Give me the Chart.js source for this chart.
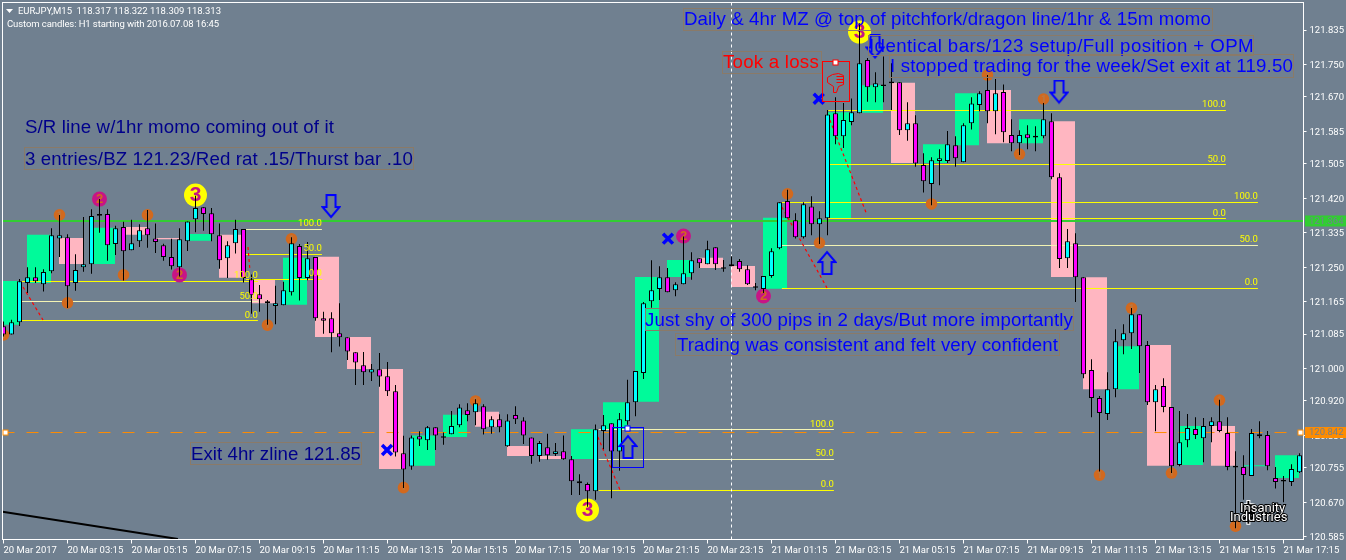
<!DOCTYPE html>
<html>
<head>
<meta charset="utf-8">
<title>EURJPY,M15</title>
<script src="https://cdn.jsdelivr.net/npm/chart.js@4/dist/chart.umd.js"></script>
<style>
html, body { margin: 0; padding: 0; background: #708090; }
canvas { display: block; }
</style>
</head>
<body>
<canvas id="chart" width="1346" height="560"></canvas>
<script>
// M15 candles
const opens = [
  121.104,121.084,121.114,121.211,121.225,121.208,121.240,121.321,121.324,121.211,
  121.250,121.257,121.381,121.381,121.307,121.349,121.292,121.314,121.346,121.321,
  121.304,121.275,121.250,121.314,121.368,121.398,121.383,121.329,121.272,121.309,
  121.344,121.220,121.183,121.166,121.154,121.156,121.188,121.302,121.223,121.275,
  121.124,121.124,121.087,121.077,121.040,121.008,120.990,120.998,120.981,120.944,
  120.791,120.758,120.833,120.823,120.855,120.833,120.838,120.860,120.897,120.892,
  120.907,120.855,120.875,120.808,120.885,120.872,120.830,120.784,120.806,120.789,
  120.796,120.776,120.717,120.715,120.697,120.846,120.865,120.795,120.870,120.917,
  120.989,121.166,121.196,121.225,121.193,121.208,121.235,121.272,121.257,121.299,
  121.250,121.252,121.265,121.245,121.203,121.196,121.228,121.297,121.413,121.366,
  121.324,121.400,121.356,121.371,121.630,121.573,121.608,121.630,121.761,121.694,
  121.701,121.708,121.706,121.588,121.605,121.502,121.455,121.512,121.512,121.551,
  121.509,121.605,121.650,121.687,121.635,121.682,121.576,121.556,121.578,121.574,
  121.573,121.610,121.472,121.272,121.309,121.225,120.996,120.927,120.888,120.949,
  121.070,121.087,121.134,121.058,120.917,120.957,120.905,120.762,120.823,120.851,
  120.828,120.858,120.870,120.841,120.760,120.757,120.735,120.833,120.836,120.730,
  120.725,120.720,120.744
];
const highs = [
  121.116,121.120,121.221,121.250,121.250,121.245,121.346,121.379,121.331,121.282,
  121.374,121.393,121.418,121.393,121.352,121.362,121.367,121.356,121.391,121.358,
  121.308,121.320,121.346,121.363,121.426,121.398,121.396,121.358,121.314,121.367,
  121.344,121.232,121.206,121.169,121.204,121.214,121.324,121.307,121.312,121.275,
  121.140,121.139,121.161,121.077,121.040,121.041,121.011,121.038,121.016,120.959,
  120.834,120.835,120.845,120.858,120.855,120.842,120.895,120.912,120.914,120.924,
  120.912,120.882,120.887,120.887,120.907,120.880,120.830,120.821,120.839,120.816,
  120.835,120.784,120.739,120.719,120.862,120.885,120.865,120.890,120.972,120.994,
  121.164,121.267,121.252,121.248,121.213,121.326,121.287,121.272,121.315,121.299,
  121.268,121.277,121.270,121.255,121.211,121.228,121.297,121.410,121.441,121.383,
  121.410,121.425,121.388,121.638,121.669,121.655,121.666,121.852,121.766,121.731,
  121.770,121.753,121.706,121.657,121.625,121.531,121.521,121.541,121.586,121.573,
  121.605,121.669,121.684,121.724,121.714,121.701,121.615,121.588,121.600,121.598,
  121.655,121.630,121.482,121.344,121.334,121.225,121.023,120.932,120.991,121.097,
  121.109,121.149,121.134,121.068,120.959,120.976,120.905,120.895,120.888,120.880,
  120.878,120.880,120.923,120.880,120.796,120.786,120.851,120.870,120.846,120.757,
  120.735,120.764,120.791
];
const lows = [
  121.079,121.084,121.105,121.186,121.211,121.190,121.235,121.275,121.149,121.192,
  121.239,121.234,121.335,121.266,121.280,121.217,121.292,121.300,121.298,121.285,
  121.266,121.244,121.227,121.290,121.336,121.340,121.314,121.246,121.223,121.284,
  121.212,121.135,121.140,121.108,121.109,121.156,121.180,121.168,121.218,121.118,
  121.086,121.040,121.054,121.021,120.959,120.959,120.969,120.955,120.932,120.783,
  120.705,120.750,120.809,120.799,120.799,120.812,120.838,120.855,120.870,120.860,
  120.837,120.839,120.843,120.807,120.863,120.814,120.765,120.770,120.775,120.784,
  120.775,120.688,120.688,120.659,120.676,120.801,120.680,120.748,120.861,120.882,
  120.974,121.150,121.169,121.188,121.178,121.208,121.219,121.248,121.257,121.243,
  121.239,121.252,121.239,121.206,121.193,121.186,121.224,121.294,121.371,121.321,
  121.321,121.329,121.307,121.329,121.553,121.544,121.600,121.630,121.658,121.657,
  121.657,121.638,121.576,121.562,121.498,121.434,121.403,121.452,121.507,121.498,
  121.509,121.590,121.635,121.605,121.578,121.558,121.536,121.527,121.541,121.536,
  121.568,121.467,121.248,121.248,121.164,120.976,120.880,120.746,120.873,120.929,
  121.035,121.048,120.989,120.910,120.845,120.892,120.742,120.759,120.806,120.826,
  120.769,120.818,120.843,120.749,120.606,120.676,120.735,120.828,120.749,120.704,
  120.670,120.710,120.742
];
const closes = [
  121.084,121.114,121.215,121.225,121.215,121.238,121.329,121.329,121.203,121.243,
  121.257,121.376,121.377,121.304,121.346,121.289,121.309,121.341,121.329,121.312,
  121.275,121.252,121.319,121.363,121.396,121.381,121.331,121.267,121.304,121.344,
  121.223,121.181,121.171,121.161,121.161,121.193,121.309,121.223,121.272,121.124,
  121.118,121.087,121.077,121.042,121.015,120.991,120.998,120.980,120.944,120.793,
  120.751,120.830,120.825,120.855,120.835,120.829,120.858,120.904,120.885,120.914,
  120.850,120.875,120.855,120.872,120.875,120.835,120.784,120.816,120.786,120.796,
  120.776,120.722,120.722,120.697,120.850,120.860,120.795,120.875,120.917,120.994,
  121.161,121.193,121.225,121.188,121.208,121.235,121.267,121.260,121.294,121.257,
  121.246,121.257,121.245,121.208,121.199,121.228,121.289,121.410,121.371,121.324,
  121.405,121.356,121.371,121.627,121.573,121.613,121.632,121.753,121.694,121.704,
  121.697,121.704,121.588,121.605,121.506,121.462,121.514,121.519,121.553,121.519,
  121.600,121.654,121.679,121.635,121.679,121.583,121.556,121.576,121.568,121.570,
  121.615,121.472,121.270,121.314,121.225,120.986,120.927,120.890,120.949,121.067,
  121.087,121.134,121.055,120.917,120.949,120.905,120.759,120.818,120.853,120.836,
  120.858,120.870,120.846,120.757,120.756,120.737,120.841,120.838,120.759,120.720,
  120.721,120.752,120.786
];

// H1 custom candles, 4 M15 bars each
const boxStart = [-1,3,7,11,15,19,23,27,31,35,39,43,47,51,55,59,63,67,71,75,79,83,87,91,95,103,107,111,115,119,123,127,131,135,139,143,147,151,155,159];
const boxTop = [121.216,121.330,121.322,121.347,121.349,121.322,121.332,121.330,121.219,121.273,121.276,121.078,120.999,120.835,120.886,120.893,120.809,120.784,120.850,120.917,121.226,121.268,121.273,121.253,121.372,121.632,121.699,121.705,121.553,121.679,121.687,121.615,121.610,121.225,121.055,121.058,120.858,120.858,120.761,120.786];
const boxBottom = [121.108,121.211,121.258,121.258,121.330,121.319,121.315,121.224,121.161,121.157,121.078,120.999,120.752,120.760,120.831,120.856,120.784,120.777,120.777,120.850,120.918,121.226,121.248,121.201,121.197,121.371,121.631,121.507,121.507,121.551,121.556,121.556,121.226,120.949,120.949,120.760,120.762,120.760,120.759,120.730];
const boxRising = [1,1,0,1,0,0,1,0,0,1,0,0,0,1,1,0,0,0,1,1,1,1,0,0,1,1,1,0,1,1,0,1,0,0,1,0,1,0,1,1];

// fibo levels
const levelFrom = [2.3,2.3,2.3,30.3,30.3,30.3,74.4,74.4,74.4,97.3,97.3,97.3,103.1,103.1,103.1];
const levelTo = [31.8,31.8,31.8,39.8,39.8,39.8,103.8,103.8,103.8,156.8,156.8,156.8,152.8,152.8,152.8];
const levelPrice = [121.2147,121.1653,121.1184,121.3430,121.2813,121.2196,120.8495,120.7755,120.6990,121.4096,121.3035,121.1974,121.6366,121.5033,121.3701];
const levelLabels = ['100.0','50.0','0.0','100.0','50.0','0.0','100.0','50.0','0.0','100.0','50.0','0.0','100.0','50.0','0.0'];
const levelPale = [0,1,0,1,0,0,1,1,0,0,1,0,0,0,0];

// price lines
const supportPrice = 121.364;
const bidPrice = 120.842;
const crosshairIndex = 91;

// red dotted trend lines, and the black one bottom left
const trendFromX = [2.44,30.56,74.3,97.3,103.3];
const trendFromY = [121.2011,121.2998,120.831,121.3985,121.6131];
const trendToX = [4.94,30.8,77.06,102.94,107.94];
const trendToY = [121.1197,121.243,120.7002,121.1986,121.3787];
const blackTrendX = [-0.125,21.8];
const blackTrendY = [120.6467,120.5793];

// numbered 1-2-3 markers
const oneX = [0,7,18,15,8,36,33,50,59,98,102,116,123,130,127,141,137,146,152,154];
const oneY = [121.083,121.379,121.379,121.231,121.162,121.320,121.107,120.706,120.920,121.431,121.310,121.406,121.724,121.665,121.529,121.149,120.737,120.742,120.922,120.611];
const twoX = [12,22,85,95];
const twoY = [121.418,121.231,121.327,121.179];
const threeX = [24,73,107];
const threeY = [121.428,120.651,121.830];

// blue marks
const crossX = [47.94,83.06,101.9];
const crossY = [120.7989,121.3203,121.6657];
const downArrowX = [40.94,108.94,131.94];
const downArrowY = [121.3997,121.7933,121.6822];
const upArrowX = [78.06,102.94];
const upArrowY = [120.8075,121.2615];

// axes
const xTickIndex = [0,8,16,24,32,40,48,56,64,72,80,88,96,104,112,120,128,136,144,152,160];
const xTickLabels = ['20 Mar 2017','20 Mar 03:15','20 Mar 05:15','20 Mar 07:15','20 Mar 09:15','20 Mar 11:15','20 Mar 13:15','20 Mar 15:15','20 Mar 17:15','20 Mar 19:15','20 Mar 21:15','20 Mar 23:15','21 Mar 01:15','21 Mar 03:15','21 Mar 05:15','21 Mar 07:15','21 Mar 09:15','21 Mar 11:15','21 Mar 13:15','21 Mar 15:15','21 Mar 17:15'];
const yTicks = [121.835,121.750,121.670,121.585,121.505,121.420,121.335,121.250,121.165,121.085,121.000,120.920,120.835,120.755,120.670,120.585];

// text objects on the chart: text, left, baseline, width, colour, frame [x1,y1,x2,y2]
const ink = '#0000ff';
const navy = '#00008b';
const notes = [
  ['Daily & 4hr MZ @ top of pitchfork/dragon line/1hr & 15m momo', 684, 25, 527, ink, [683,8,1212,30]],
  ['Took a loss', 723, 68, 96, '#ff0000', [722,51,821,73]],
  ['Identical bars/123 setup/Full position + OPM', 869, 52, 385, ink, [868,35,1253,55]],
  ['I stopped trading for the week/Set exit at 119.50', 890, 72, 403, ink, [889,54,1293,77]],
  ['S/R line w/1hr momo coming out of it', 25, 133, 309, navy, null],
  ['3 entries/BZ 121.23/Red rat .15/Thurst bar .10', 25, 164.5, 388, navy, [24,147,413,169]],
  ['Exit 4hr zline 121.85', 191, 459.5, 170, navy, [190,442,361,464]],
  ['Just shy of 300 pips in 2 days/But more importantly', 645, 326, 428, ink, [645,308,1073,330]],
  ['Trading was consistent and felt very confident', 677, 351, 381, ink, [675,333,1059,355]]
];

const tickFont = { family: 'Roboto', size: 9.5 };

function lineSet(xs, ys, color, width, dash, order) {
  return {
    type: 'scatter',
    data: xs.map((x, i) => ({ x: x, y: ys[i] })),
    showLine: true,
    borderColor: color,
    borderWidth: width,
    borderDash: dash || [],
    pointRadius: 0,
    order: order
  };
}

function pointSet(xs, ys, style, order) {
  return Object.assign({
    type: 'scatter',
    data: xs.map((x, i) => ({ x: x, y: ys[i] })),
    order: order
  }, style);
}

function barSet(points, thickness, fill, border, order) {
  return {
    type: 'bar',
    data: points,
    barThickness: thickness,
    grouped: false,
    backgroundColor: fill,
    borderColor: border,
    borderWidth: border ? 1 : 0,
    borderSkipped: false,
    inflateAmount: 0,
    order: order
  };
}

// hollow wingdings style arrow, used as point style
function makeArrow(down) {
  const c = document.createElement('canvas');
  c.width = 20;
  c.height = 25;
  const g = c.getContext('2d');
  if (!down) {
    g.translate(0, 25);
    g.scale(1, -1);
  }
  g.strokeStyle = '#0000ff';
  g.lineWidth = 2;
  g.beginPath();
  g.moveTo(5.5, 1);
  g.lineTo(14.5, 1);
  g.lineTo(14.5, 13);
  g.lineTo(18.5, 13);
  g.lineTo(10, 23);
  g.lineTo(1.5, 13);
  g.lineTo(5.5, 13);
  g.closePath();
  g.stroke();
  return c;
}

const datasets = [];

// H1 boxes at the back
datasets.push(barSet(
  boxStart.map((k, i) => ({ x: k + 1.4375, y: [boxBottom[i], boxTop[i]] })),
  24,
  boxRising.map(r => r ? '#00fa9a' : '#ffb6c1'),
  null, 20
));

// levels
levelPrice.forEach((p, i) => {
  datasets.push(lineSet([levelFrom[i], levelTo[i]], [p, p], levelPale[i] ? '#f4f4b4' : '#ffff00', 1, null, 15));
});
datasets.push(lineSet([-0.125, 162.5], [supportPrice, supportPrice], '#32cd32', 2, null, 14));
datasets.push(lineSet([-0.125, 162.5], [bidPrice, bidPrice], '#ff8c00', 1, [12, 12], 14));
datasets.push(lineSet([crosshairIndex, crosshairIndex], [120.5781, 121.90304], '#ffffff', 1, [3, 3], 14));
trendFromX.forEach((x, i) => {
  datasets.push(lineSet([x, trendToX[i]], [trendFromY[i], trendToY[i]], '#ff0000', 1.2, [3, 3], 13));
});
datasets.push(lineSet(blackTrendX, blackTrendY, '#000000', 2, null, 13));

// markers with a digit, digits get drawn right after each of these
const digitSets = [];
function addDigits(xs, ys, radius, fill, digit, digitColor, font) {
  const set = pointSet(xs, ys, { pointStyle: 'circle', pointRadius: radius, pointBackgroundColor: fill, pointBorderWidth: 0 }, 10);
  set.digit = { text: digit, color: digitColor, font: font };
  datasets.push(set);
  digitSets.push(datasets.length - 1);
}
addDigits(oneX, oneY, 5.8, '#d2691e', '1', '#b87a45', 'bold 9px Roboto');
addDigits(twoX, twoY, 7.5, '#c71585', '2', '#d2691e', 'bold 13px "Liberation Sans"');
addDigits(threeX, threeY, 11.5, '#ffff00', '3', '#c71585', 'bold 21px "Liberation Sans"');

// candles: wick then body
const wicks = highs.map((h, i) => ({ x: i, y: [lows[i], h] }));
const bodies = opens.map((o, i) => ({ x: i, y: [Math.min(o, closes[i]), Math.max(o, closes[i])] }));
const bodyColors = opens.map((o, i) => {
  if (Math.abs(closes[i] - o) <= 0.0045) return '#000000';
  return closes[i] > o ? '#00ffff' : '#ff00ff';
});
datasets.push(barSet(wicks, 1, '#000000', null, 3));
datasets.push(barSet(bodies, 5, bodyColors, '#000000', 2));

// blue crosses and arrows on top
datasets.push(pointSet(crossX, crossY, { pointStyle: 'crossRot', pointRadius: 7, pointBorderColor: '#0000ff', pointBorderWidth: 3.5 }, 1));
datasets.push(pointSet(downArrowX, downArrowY, { pointStyle: makeArrow(true) }, 1));
datasets.push(pointSet(upArrowX, upArrowY, { pointStyle: makeArrow(false) }, 1));

// text squeezed or spread to the width it has in the picture
function fitText(ctx, text, x, y, width, font, color) {
  ctx.font = font;
  ctx.letterSpacing = '0px';
  const natural = ctx.measureText(text).width;
  ctx.letterSpacing = ((width - natural) / text.length).toFixed(3) + 'px';
  ctx.fillStyle = color;
  ctx.fillText(text, x, y);
  ctx.letterSpacing = '0px';
}

function handle(ctx, x, y, color) {
  ctx.fillStyle = '#ffffff';
  ctx.strokeStyle = color;
  ctx.lineWidth = 1;
  ctx.fillRect(x - 2.5, y - 2.5, 5, 5);
  ctx.strokeRect(x - 2.5, y - 2.5, 5, 5);
}

// thumbs down, outline only
function drawThumb(ctx) {
  ctx.strokeStyle = '#ff0000';
  ctx.lineWidth = 1;
  ctx.beginPath();
  ctx.moveTo(827.5, 77.5);
  ctx.lineTo(832.5, 74.5);
  ctx.lineTo(838.5, 73.5);
  ctx.lineTo(843.5, 75.5);
  ctx.lineTo(843.5, 84.5);
  ctx.lineTo(838.5, 86.5);
  ctx.lineTo(836.5, 92.5);
  ctx.lineTo(833.5, 92.5);
  ctx.lineTo(833.5, 86.5);
  ctx.lineTo(827.5, 82.5);
  ctx.closePath();
  ctx.moveTo(836.5, 76.5);
  ctx.lineTo(843.5, 76.5);
  ctx.moveTo(836.5, 79.5);
  ctx.lineTo(843.5, 79.5);
  ctx.moveTo(836.5, 82.5);
  ctx.lineTo(843.5, 82.5);
  ctx.stroke();
}

const overlay = {
  id: 'overlay',
  afterDatasetDraw(chart, args) {
    if (digitSets.indexOf(args.index) < 0) return;
    const ctx = chart.ctx;
    const ds = chart.data.datasets[args.index];
    const xScale = chart.scales.x;
    const yScale = chart.scales.y;
    ctx.save();
    ctx.font = ds.digit.font;
    ctx.fillStyle = ds.digit.color;
    ctx.textAlign = 'center';
    ctx.textBaseline = 'middle';
    ds.data.forEach(p => {
      ctx.fillText(ds.digit.text, xScale.getPixelForValue(p.x), yScale.getPixelForValue(p.y) + 0.5);
    });
    ctx.restore();
  },
  afterDraw(chart) {
    const ctx = chart.ctx;
    const xScale = chart.scales.x;
    const yScale = chart.scales.y;
    const area = chart.chartArea;
    ctx.save();
    ctx.setLineDash([]);

    // frame of the plot
    ctx.strokeStyle = '#ffffff';
    ctx.lineWidth = 1;
    ctx.strokeRect(area.left, area.top, area.right - area.left, area.bottom - area.top);

    // header
    ctx.fillStyle = '#ffffff';
    ctx.beginPath();
    ctx.moveTo(6, 9);
    ctx.lineTo(13, 9);
    ctx.lineTo(9.5, 13);
    ctx.closePath();
    ctx.fill();
    fitText(ctx, 'EURJPY,M15  118.317 118.322 118.309 118.313', 18, 14, 203, '9.5px Roboto', '#ffffff');
    fitText(ctx, 'Custom candles: H1 starting with 2016.07.08 16:45', 7, 27, 212, '9.5px Roboto', '#ffffff');

    // fibo labels
    ctx.font = '9.5px Roboto';
    ctx.fillStyle = '#ffff00';
    ctx.textAlign = 'right';
    levelPrice.forEach((p, i) => {
      ctx.fillText(levelLabels[i], xScale.getPixelForValue(levelTo[i]), yScale.getPixelForValue(p) - 3);
    });
    ctx.textAlign = 'left';

    // text objects
    notes.forEach(n => {
      if (n[5]) {
        ctx.strokeStyle = '#8a7a68';
        ctx.lineWidth = 1;
        ctx.strokeRect(n[5][0] + 0.5, n[5][1] + 0.5, n[5][2] - n[5][0], n[5][3] - n[5][1]);
      }
      fitText(ctx, n[0], n[1], n[2], n[3], '18.67px "Liberation Sans"', n[4]);
    });

    // thumbs down box
    ctx.strokeStyle = '#ff0000';
    ctx.strokeRect(822.5, 61.5, 27, 40);
    handle(ctx, 835.5, 62.5, '#ff0000');
    drawThumb(ctx);

    // blue entry box
    ctx.strokeStyle = '#0000ff';
    ctx.strokeRect(612.5, 427.5, 31, 40);
    handle(ctx, 627.5, 428.5, '#0000ff');

    // line handles
    handle(ctx, 5.5, yScale.getPixelForValue(bidPrice), '#ff8c00');
    handle(ctx, 1300.5, yScale.getPixelForValue(bidPrice), '#ff8c00');

    // logo
    ctx.font = 'bold 24px "DejaVu Sans"';
    ctx.lineWidth = 2;
    ctx.strokeStyle = '#ffffff';
    ctx.fillStyle = '#000000';
    ctx.strokeText('$', 1240, 520);
    ctx.fillText('$', 1240, 520);
    ctx.font = '13px Roboto';
    ctx.strokeStyle = '#000000';
    ctx.lineWidth = 2;
    ctx.fillStyle = '#ffffff';
    ctx.strokeText('Insanity', 1240, 511.5);
    ctx.fillText('Insanity', 1240, 511.5);
    ctx.strokeText('Industries', 1230, 521);
    ctx.fillText('Industries', 1230, 521);

    // price tags on the axis
    ctx.textBaseline = 'middle';
    const tags = [[supportPrice, '#32cd32'], [bidPrice, '#ff8c00']];
    tags.forEach(t => {
      const y = yScale.getPixelForValue(t[0]);
      ctx.fillStyle = t[1];
      ctx.fillRect(1305, y - 5.5, 41, 11);
      ctx.font = '9.5px Roboto';
      ctx.fillStyle = '#708090';
      ctx.fillText(t[0].toFixed(3), 1309, y + 0.5);
    });
    ctx.restore();
  }
};

new Chart(document.getElementById('chart').getContext('2d'), {
  type: 'scatter',
  data: { datasets: datasets },
  plugins: [overlay],
  options: {
    responsive: false,
    animation: false,
    events: [],
    layout: { autoPadding: false, padding: { left: 2.5, top: 2.5, right: 0, bottom: 0 } },
    plugins: { legend: { display: false }, tooltip: { enabled: false } },
    scales: {
      x: {
        type: 'linear',
        min: -0.125,
        max: 162.5,
        offset: false,
        afterBuildTicks: s => { s.ticks = xTickIndex.map(v => ({ value: v })); },
        afterFit: s => { s.height = 20.5; s.paddingLeft = 0; s.paddingRight = 0; },
        border: { color: '#ffffff' },
        grid: { drawOnChartArea: false, color: '#ffffff', tickLength: 4, offset: false },
        ticks: {
          autoSkip: false,
          maxRotation: 0,
          align: 'start',
          color: '#ffffff',
          font: tickFont,
          padding: 1,
          callback: (v, i) => xTickLabels[i]
        }
      },
      y: {
        type: 'linear',
        position: 'right',
        min: 120.5781,
        max: 121.90304,
        afterBuildTicks: s => { s.ticks = yTicks.map(v => ({ value: v })); },
        afterFit: s => { s.width = 42.5; s.paddingTop = 0; s.paddingBottom = 0; },
        border: { color: '#ffffff' },
        grid: { drawOnChartArea: false, color: '#ffffff', tickLength: 3 },
        ticks: {
          autoSkip: false,
          color: '#ffffff',
          font: tickFont,
          padding: 3,
          labelOffset: 1,
          callback: v => v.toFixed(3)
        }
      }
    }
  }
});
</script>
</body>
</html>
